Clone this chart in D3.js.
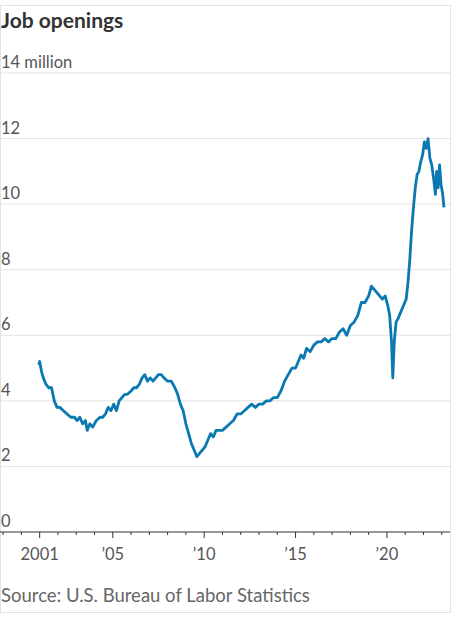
<!DOCTYPE html><html><head><meta charset="utf-8">
<script src="https://cdn.jsdelivr.net/npm/d3@7"></script>
<style>body{margin:0;background:#fff}svg{display:block}</style></head><body>
<script>
const dates=[2000.95,2001.0,2001.1,2001.2,2001.35,2001.5,2001.65,2001.8,2001.95,2002.1,2002.3,2002.5,2002.7,2002.9,2003.05,2003.2,2003.35,2003.5,2003.6,2003.75,2003.9,2004.1,2004.3,2004.45,2004.6,2004.75,2004.9,2005.05,2005.2,2005.35,2005.5,2005.65,2005.8,2006.0,2006.15,2006.3,2006.45,2006.6,2006.75,2006.9,2007.05,2007.2,2007.35,2007.5,2007.65,2007.8,2008.0,2008.2,2008.4,2008.55,2008.7,2008.85,2009.0,2009.15,2009.3,2009.45,2009.6,2009.75,2009.9,2010.05,2010.2,2010.35,2010.5,2010.65,2010.8,2011.0,2011.2,2011.4,2011.6,2011.8,2012.0,2012.2,2012.4,2012.6,2012.8,2013.0,2013.2,2013.4,2013.6,2013.8,2014.0,2014.2,2014.4,2014.6,2014.8,2015.0,2015.15,2015.3,2015.45,2015.6,2015.8,2016.0,2016.2,2016.4,2016.6,2016.8,2017.0,2017.2,2017.4,2017.6,2017.8,2018.0,2018.2,2018.4,2018.6,2018.8,2019.0,2019.15,2019.3,2019.45,2019.6,2019.75,2019.9,2020.05,2020.15,2020.25,2020.32,2020.4,2020.5,2020.6,2020.75,2020.9,2021.05,2021.15,2021.25,2021.35,2021.45,2021.55,2021.65,2021.75,2021.85,2021.95,2022.05,2022.15,2022.25,2022.35,2022.45,2022.55,2022.65,2022.72,2022.8,2022.88,2022.96,2023.05,2023.12,2023.2];
const values=[5.1,5.2,4.9,4.7,4.5,4.4,4.4,4.0,3.8,3.8,3.7,3.6,3.5,3.5,3.4,3.5,3.3,3.4,3.1,3.3,3.2,3.4,3.5,3.5,3.6,3.8,3.7,3.9,3.7,4.0,4.1,4.2,4.2,4.3,4.4,4.4,4.5,4.7,4.8,4.6,4.7,4.6,4.7,4.8,4.8,4.7,4.6,4.6,4.4,4.2,3.9,3.7,3.3,3.0,2.7,2.5,2.3,2.4,2.5,2.6,2.8,3.0,2.9,3.1,3.1,3.1,3.2,3.3,3.4,3.6,3.6,3.7,3.8,3.9,3.8,3.9,3.9,4.0,4.0,4.1,4.1,4.3,4.6,4.8,5.0,5.0,5.2,5.4,5.3,5.6,5.5,5.7,5.8,5.8,5.9,5.8,5.9,5.9,6.1,6.2,6.0,6.3,6.4,6.6,7.0,7.0,7.2,7.5,7.4,7.3,7.2,7.1,7.2,6.9,6.6,5.8,4.7,5.8,6.4,6.5,6.7,6.9,7.1,7.6,8.3,9.2,9.9,10.5,10.9,11.0,11.3,11.5,11.9,11.7,12.0,11.4,11.2,10.8,10.3,11.0,10.5,11.2,10.6,10.3,9.9];
const yTicks=[0,2,4,6,8,10,12,14];
const xTicks=[2001,2005,2010,2015,2020];
const xTickLabels=["2001","’05","’10","’15","’20"];
const W=464,H=618;
const svg=d3.select("body").append("svg").attr("width",W).attr("height",H);
svg.append("rect").attr("x",0.5).attr("y",5.5).attr("width",450).attr("height",607).attr("fill","none").attr("stroke","#dde3e8");
const x=d3.scaleLinear().domain([1998.83,2023.45]).range([0,450]);
const y=d3.scaleLinear().domain([0,14]).range([532,73]);
const font="Lato, 'Noto Sans', sans-serif";
svg.append("text").attr("x",1).attr("y",28).text("Job openings").attr("font-family",font).attr("font-weight",700).attr("font-size",21).attr("fill","#333");
yTicks.forEach(t=>{
  if(t>0) svg.append("line").attr("x1",0).attr("x2",450).attr("y1",y(t)).attr("y2",y(t)).attr("stroke","#e3e3e3").attr("stroke-width",1);
  svg.append("text").attr("x",1).attr("y",y(t)-5).text(t===14?"14 million":t).attr("font-family",font).attr("font-weight",400).attr("font-size",16.5).attr("fill","#555");
});
const line=d3.line().x((d,i)=>x(dates[i])).y(d=>y(d));
svg.append("path").datum(values).attr("d",line).attr("fill","none").attr("stroke","#0a78b1").attr("stroke-width",2.8).attr("stroke-linejoin","round");
const ax=svg.append("g").attr("transform","translate(0,532)");
ax.append("line").attr("x1",0).attr("x2",450).attr("stroke","#333").attr("stroke-width",1);
d3.range(1999,2024).forEach(yr=>{
  const major=xTicks.includes(yr);
  ax.append("line").attr("x1",x(yr)).attr("x2",x(yr)).attr("y1",0).attr("y2",major?6:3).attr("stroke","#333");
});
xTicks.forEach((t,i)=>ax.append("text").attr("x",x(t)).attr("y",28).attr("text-anchor","middle").text(xTickLabels[i]).attr("font-family",font).attr("font-weight",400).attr("font-size",16.5).attr("fill","#555"));
svg.append("text").attr("x",1).attr("y",602).text("Source: U.S. Bureau of Labor Statistics").attr("font-family",font).attr("font-weight",400).attr("font-size",18.5).attr("fill","#666");
</script></body></html>
